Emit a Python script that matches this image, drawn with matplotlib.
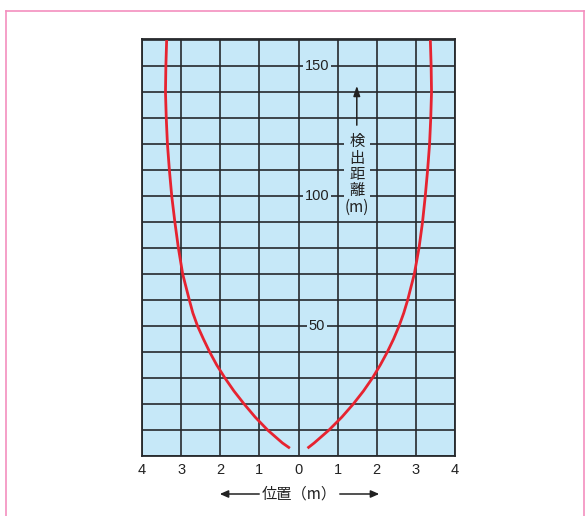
import matplotlib
matplotlib.use("Agg")
import matplotlib.pyplot as plt
from matplotlib.lines import Line2D
from matplotlib.patches import FancyArrowPatch

# ---- data ----
y_vals = [3.0, 5, 10, 15, 20, 25, 30, 35, 40, 45, 50, 55, 60, 70, 80, 90, 100, 110, 120, 130, 140, 150, 160]
x_right = [0.23, 0.40, 0.78, 1.11, 1.40, 1.66, 1.89, 2.09, 2.27, 2.43, 2.57, 2.69, 2.79, 2.96, 3.08, 3.17, 3.24, 3.30, 3.35, 3.38, 3.40, 3.39, 3.37]
x_left = [-0.22, -0.41, -0.79, -1.11, -1.39, -1.65, -1.88, -2.09, -2.27, -2.43, -2.58, -2.70, -2.79, -2.96, -3.07, -3.16, -3.24, -3.30, -3.35, -3.38, -3.40, -3.39, -3.37]
x_ticks = [-4, -3, -2, -1, 0, 1, 2, 3, 4]
x_ticklabels = ["4", "3", "2", "1", "0", "1", "2", "3", "4"]
y_grid = list(range(0, 161, 10))
y_labels = [50, 100, 150]
y_title_chars = ["検", "出", "距", "離", "(m)"]
x_title = "位置（m）"

BG = "#c6e8f8"
GRID = "#26292c"
RED = "#e62330"
PINK = "#f48fbf"
TXT = "#222222"

fig = plt.figure(figsize=(5.85, 5.16), dpi=100)
ax = fig.add_axes([142/585, 1-456/516, 313/585, (456-39.3)/516])
ax.set_facecolor(BG)
ax.set_xlim(-4, 4)
ax.set_ylim(0, 160.3)

ax.set_xticks(x_ticks)
ax.set_xticklabels(x_ticklabels, fontsize=10.5, family=["Liberation Sans"], color=TXT)
ax.set_yticks(y_grid)
ax.set_yticklabels([])
ax.tick_params(length=0, pad=5)
ax.grid(True, color=GRID, linewidth=1.2)
ax.set_axisbelow(True)
for s in ax.spines.values():
    s.set_color(GRID)
    s.set_linewidth(1.3)

for xs in (x_right, x_left):
    ax.plot(xs, y_vals, color=RED, lw=2, zorder=3, solid_joinstyle="round", solid_capstyle="butt")

# y labels inside plot
for v in y_labels:
    ax.text(0.47, v, str(v), ha="center", va="center", fontsize=10.5,
            family=["Liberation Sans"], color=TXT, zorder=4,
            bbox=dict(facecolor=BG, edgecolor="none", pad=1.5))

# vertical axis title with arrow (single stacked text)
x_t = 1.49
ax.text(x_t, 108.3, "\n".join(y_title_chars), ha="center", va="center", ma="center",
        fontsize=11, linespacing=0.95,
        family=["Noto Sans CJK JP", "DejaVu Sans"], color=TXT, zorder=4,
        bbox=dict(facecolor=BG, edgecolor="none", pad=0.6))
ax.annotate("", xy=(x_t, 143.5), xytext=(x_t, 126.2),
            arrowprops=dict(arrowstyle="-|>,head_length=0.6,head_width=0.2", color=TXT, lw=1.1),
            zorder=4)

# x title with arrows
fy = 1 - 494/516
fig.text(299/585, fy, x_title, ha="center", va="center", fontsize=11,
         family=["Noto Sans CJK JP", "DejaVu Sans"], color=TXT)
fig.add_artist(FancyArrowPatch((262/585, fy), (217/585, fy), transform=fig.transFigure,
               arrowstyle="-|>,head_length=5,head_width=2.2", color=TXT, lw=1.1))
fig.add_artist(FancyArrowPatch((337/585, fy), (382/585, fy), transform=fig.transFigure,
               arrowstyle="-|>,head_length=5,head_width=2.2", color=TXT, lw=1.1))

# pink frame
top = 1 - 10.5/516
fig.add_artist(Line2D([6/585, 584/585], [top, top], transform=fig.transFigure, color=PINK, lw=1.2))
fig.add_artist(Line2D([6/585, 6/585], [0, top], transform=fig.transFigure, color=PINK, lw=1.2))
fig.add_artist(Line2D([584/585, 584/585], [0, top], transform=fig.transFigure, color=PINK, lw=1.2))

fig.savefig("out.png", dpi=100)
